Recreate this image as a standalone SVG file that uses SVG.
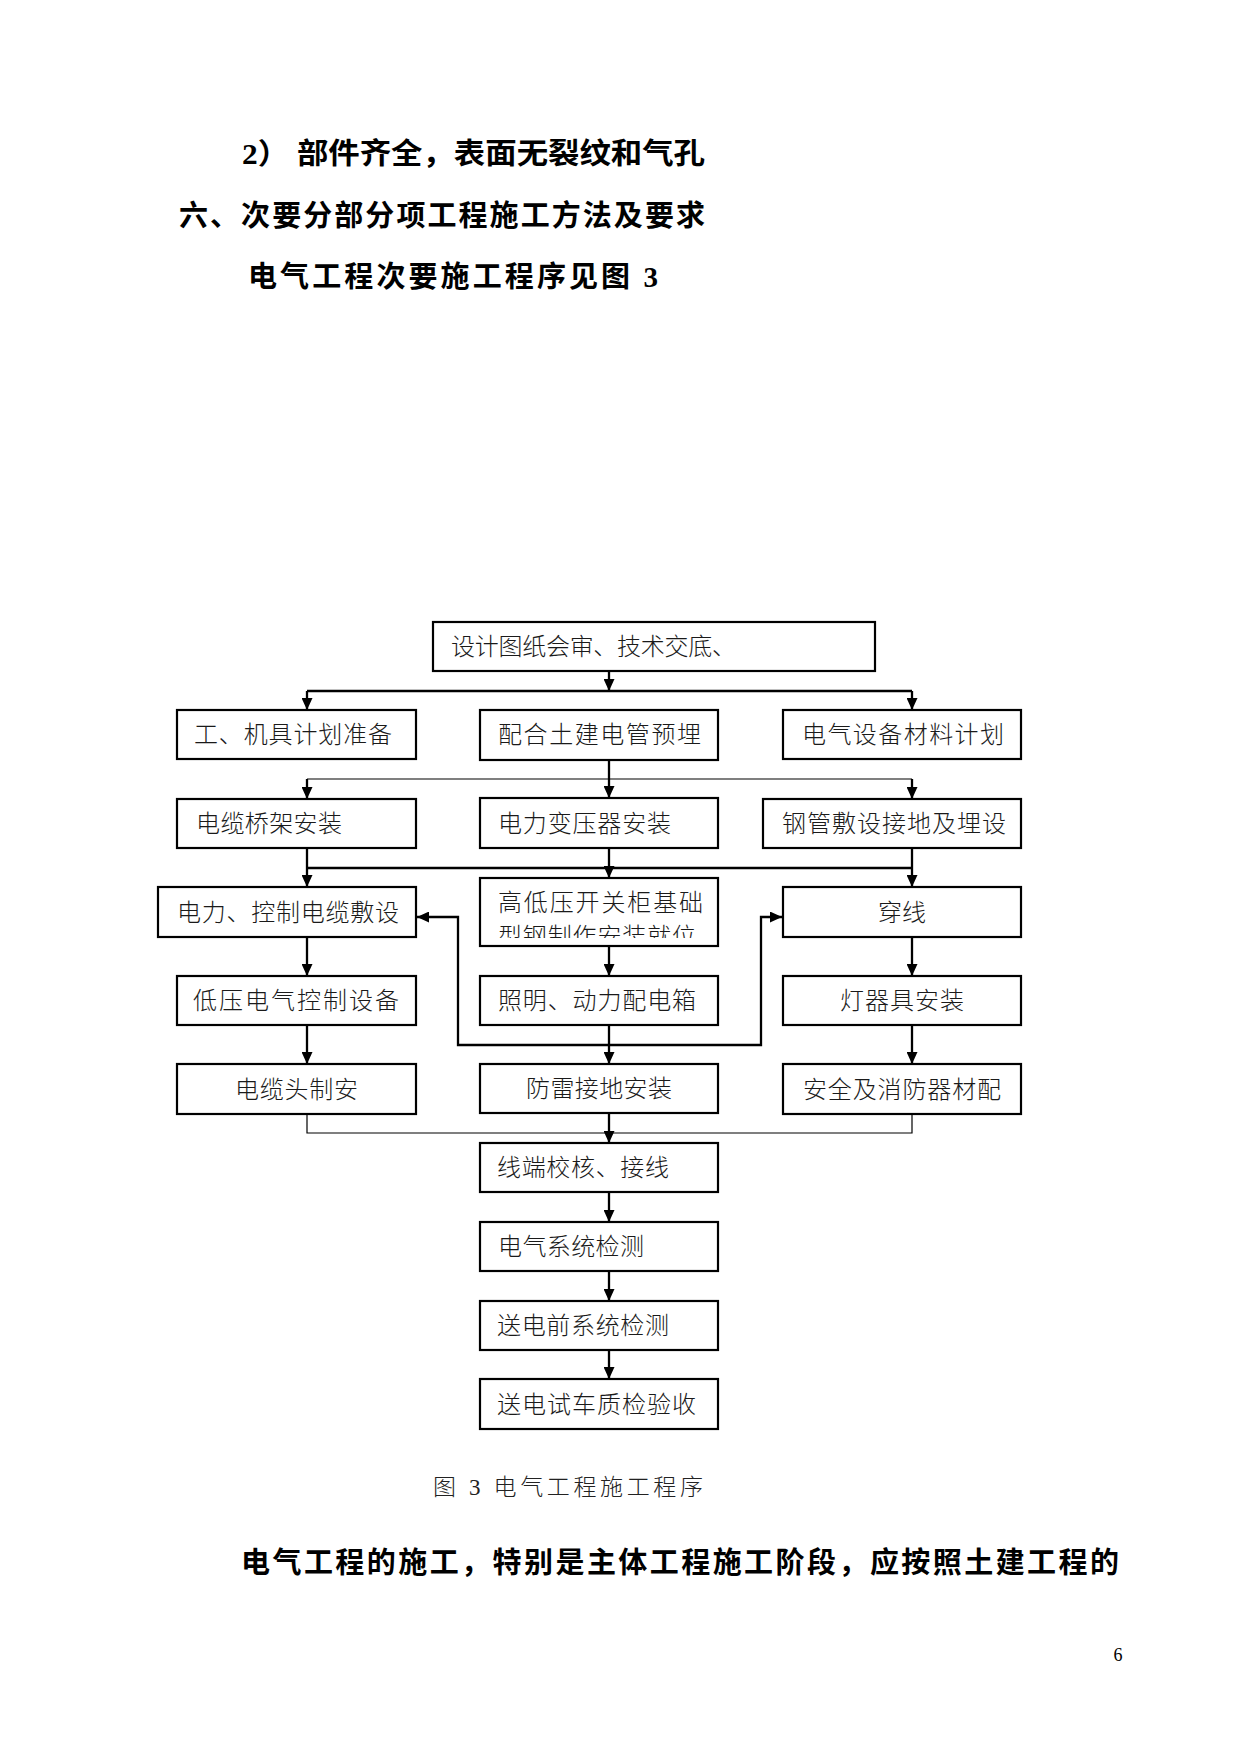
<svg xmlns="http://www.w3.org/2000/svg" width="1241" height="1754" viewBox="0 0 1241 1754">
<style>
.bg{fill:#fff}
.box{fill:#fff;stroke:#000;stroke-width:2.2}
.t{font-family:"Liberation Serif","Noto Sans CJK SC",serif;font-size:24px;font-weight:300;fill:#1a1a1a}
.h{font-family:"Liberation Serif","Noto Sans CJK SC",serif;font-size:29px;font-weight:700;fill:#000}
.cap{font-family:"Liberation Serif","Noto Sans CJK SC",serif;font-size:23px;font-weight:300;fill:#222}
.pn{font-family:"Liberation Serif",serif;font-size:18px;fill:#000}
.thick{fill:none;stroke:#000;stroke-width:2.3}
.thin{fill:none;stroke:#000;stroke-width:1.2}
.arr{fill:none;stroke:#000;stroke-width:2.3;marker-end:url(#ah)}
</style>
<defs>
<marker id="ah" markerUnits="userSpaceOnUse" markerWidth="12" markerHeight="11" refX="12" refY="5.5" orient="auto">
<path d="M0,0 L12,5.5 L0,11 z" fill="#000"/>
</marker>
<clipPath id="kgclip"><rect x="480" y="878" width="238" height="60"/></clipPath>
</defs>
<rect class="bg" x="0" y="0" width="1241" height="1754"/>

<g id="headings">
<text class="h" x="242" y="164" textLength="463" lengthAdjust="spacingAndGlyphs">2） 部件齐全，表面无裂纹和气孔</text>
<text class="h" x="179" y="226" textLength="526" lengthAdjust="spacing">六、次要分部分项工程施工方法及要求</text>
<text class="h" x="248" y="287" textLength="410" lengthAdjust="spacing">电气工程次要施工程序见图 3</text>
</g>

<g id="connectors">
<path class="arr" d="M609,671 V691"/>
<path class="thick" d="M307,691 H912"/>
<path class="arr" d="M307,691 V710"/>
<path class="arr" d="M912,691 V710"/>
<path class="arr" d="M609,760 V798"/>
<path class="thin" d="M307,779 H912"/>
<path class="arr" d="M307,779 V799"/>
<path class="arr" d="M912,779 V799"/>
<path class="arr" d="M307,848 V887"/>
<path class="arr" d="M609,848 V878"/>
<path class="arr" d="M912,848 V887"/>
<path class="thick" d="M307,868 H912"/>
<path class="arr" d="M307,937 V976"/>
<path class="arr" d="M609,946 V976"/>
<path class="arr" d="M912,937 V976"/>
<path class="arr" d="M307,1025 V1064"/>
<path class="arr" d="M609,1025 V1064"/>
<path class="arr" d="M912,1025 V1064"/>
<path class="arr" d="M609,1045 H458 V917 H417"/>
<path class="arr" d="M609,1045 H761 V917 H782"/>
<path class="thin" d="M307,1114 V1133 H912 V1114"/>
<path class="arr" d="M609,1113 V1143"/>
<path class="arr" d="M609,1192 V1222"/>
<path class="arr" d="M609,1271 V1301"/>
<path class="arr" d="M609,1350 V1379"/>
</g>

<g id="n_top"><rect class="box" x="433" y="622" width="442" height="49"/><text class="t" x="451" y="655" textLength="285" lengthAdjust="spacing">设计图纸会审、技术交底、</text></g>
<g id="n_gj"><rect class="box" x="177" y="710" width="239" height="49"/><text class="t" x="194" y="743" textLength="198" lengthAdjust="spacing">工、机具计划准备</text></g>
<g id="n_ph"><rect class="box" x="480" y="710" width="238" height="50"/><text class="t" x="498" y="743" textLength="203" lengthAdjust="spacing">配合土建电管预埋</text></g>
<g id="n_dq"><rect class="box" x="783" y="710" width="238" height="49"/><text class="t" x="802" y="743" textLength="202" lengthAdjust="spacing">电气设备材料计划</text></g>

<g id="n_qj"><rect class="box" x="177" y="799" width="239" height="49"/><text class="t" x="196" y="832" textLength="146" lengthAdjust="spacing">电缆桥架安装</text></g>
<g id="n_byq"><rect class="box" x="480" y="798" width="238" height="50"/><text class="t" x="498" y="832" textLength="173" lengthAdjust="spacing">电力变压器安装</text></g>
<g id="n_gg"><rect class="box" x="763" y="799" width="258" height="49"/><text class="t" x="782" y="832" textLength="224" lengthAdjust="spacing">钢管敷设接地及埋设</text></g>

<g id="n_dl"><rect class="box" x="158" y="887" width="258" height="50"/><text class="t" x="177" y="921" textLength="222" lengthAdjust="spacing">电力、控制电缆敷设</text></g>
<g id="n_kg"><rect class="box" x="480" y="878" width="238" height="68"/><text class="t" x="498" y="911" textLength="205" lengthAdjust="spacing">高低压开关柜基础</text><text class="t" x="498" y="945" textLength="198" lengthAdjust="spacing" clip-path="url(#kgclip)">型钢制作安装就位</text></g>
<g id="n_cx"><rect class="box" x="783" y="887" width="238" height="50"/><text class="t" x="878" y="921" textLength="48" lengthAdjust="spacing">穿线</text></g>

<g id="n_dy"><rect class="box" x="177" y="976" width="239" height="49"/><text class="t" x="193" y="1009" textLength="206" lengthAdjust="spacing">低压电气控制设备</text></g>
<g id="n_zm"><rect class="box" x="480" y="976" width="238" height="49"/><text class="t" x="498" y="1009" textLength="198" lengthAdjust="spacing">照明、动力配电箱</text></g>
<g id="n_dj"><rect class="box" x="783" y="976" width="238" height="49"/><text class="t" x="840" y="1009" textLength="124" lengthAdjust="spacing">灯器具安装</text></g>

<g id="n_dlt"><rect class="box" x="177" y="1064" width="239" height="50"/><text class="t" x="235" y="1098" textLength="123" lengthAdjust="spacing">电缆头制安</text></g>
<g id="n_fl"><rect class="box" x="480" y="1064" width="238" height="49"/><text class="t" x="526" y="1097" textLength="146" lengthAdjust="spacing">防雷接地安装</text></g>
<g id="n_aq"><rect class="box" x="783" y="1064" width="238" height="50"/><text class="t" x="803" y="1098" textLength="198" lengthAdjust="spacing">安全及消防器材配</text></g>

<g id="n_xd"><rect class="box" x="480" y="1143" width="238" height="49"/><text class="t" x="497" y="1176" textLength="172" lengthAdjust="spacing">线端校核、接线</text></g>
<g id="n_xt"><rect class="box" x="480" y="1222" width="238" height="49"/><text class="t" x="498" y="1255" textLength="146" lengthAdjust="spacing">电气系统检测</text></g>
<g id="n_sdq"><rect class="box" x="480" y="1301" width="238" height="49"/><text class="t" x="497" y="1334" textLength="172" lengthAdjust="spacing">送电前系统检测</text></g>
<g id="n_sdsc"><rect class="box" x="480" y="1379" width="238" height="50"/><text class="t" x="497" y="1413" textLength="199" lengthAdjust="spacing">送电试车质检验收</text></g>

<g id="caption"><text class="cap" x="433" y="1495" textLength="270" lengthAdjust="spacing">图 3 电气工程施工程序</text></g>
<g id="body"><text class="h" x="241" y="1573" textLength="878" lengthAdjust="spacing">电气工程的施工，特别是主体工程施工阶段，应按照土建工程的</text></g>
<g id="pagenum"><text class="pn" x="1118" y="1661" text-anchor="middle">6</text></g>
</svg>
